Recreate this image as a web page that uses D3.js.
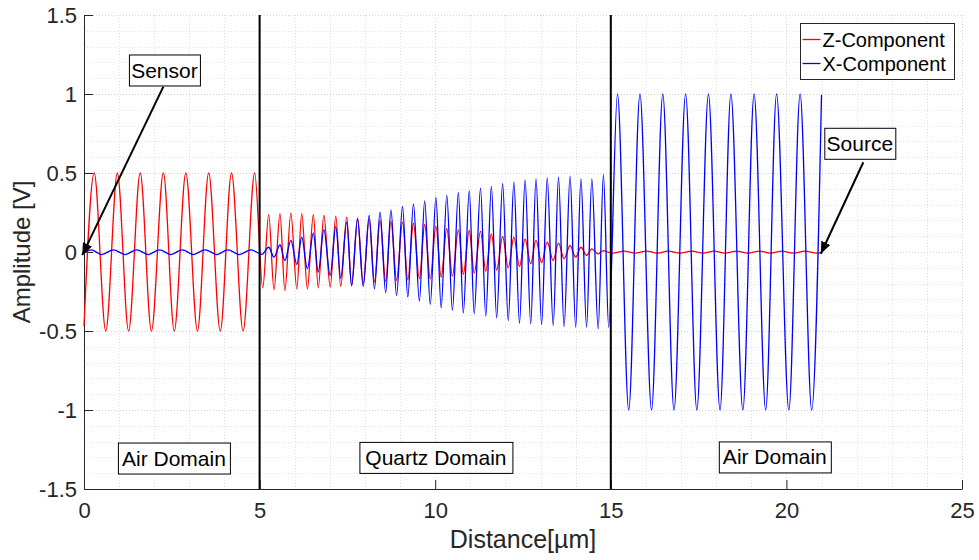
<!DOCTYPE html>
<html>
<head>
<meta charset="utf-8">
<script src="https://cdn.jsdelivr.net/npm/d3@7/dist/d3.min.js"></script>
<style>
  html, body { margin: 0; padding: 0; background: #ffffff; }
  svg { display: block; font-family: "Liberation Sans", Arial, Helvetica, sans-serif; }
</style>
</head>
<body>
<svg id="chart" width="979" height="560"></svg>
<script>
// ---------------- data ----------------
const xTicks = [0, 5, 10, 15, 20, 25];
const xTickLabels = ["0", "5", "10", "15", "20", "25"];
const yTicks = [-1.5, -1, -0.5, 0, 0.5, 1, 1.5];
const yTickLabels = ["-1.5", "-1", "-0.5", "0", "0.5", "1", "1.5"];
const domainBoundaries = [5, 15];
const seriesNames = ["Z-Component", "X-Component"];

// Z-component: turning points (peaks / troughs) along the path, per domain
const zAirInX = [0, 0.29, 0.62, 0.95, 1.27, 1.60, 1.92, 2.26, 2.57, 2.90, 3.23, 3.55, 3.88, 4.20, 4.53, 4.86];
const zAirInY = [-0.47, 0.50, -0.50, 0.50, -0.50, 0.50, -0.50, 0.50, -0.50, 0.50, -0.50, 0.50, -0.50, 0.50, -0.50, 0.50];
const zQuartzX = [5.09, 5.26, 5.41, 5.58, 5.72, 5.89, 6.06, 6.20, 6.36, 6.53, 6.67, 6.83, 7.01, 7.17, 7.31, 7.48,
                  7.62, 7.79, 7.95, 8.12, 8.27, 8.43, 8.59, 8.74, 8.90, 9.07, 9.22, 9.38, 9.55, 9.70, 9.86, 10.02,
                  10.17, 10.33, 10.49, 10.66, 10.80, 10.97, 11.11, 11.29, 11.44, 11.60, 11.75, 11.92, 12.08, 12.24,
                  12.40, 12.56, 12.72, 12.87, 13.03, 13.19, 13.36, 13.51, 13.67, 13.84, 14.00, 14.15, 14.31, 14.46,
                  14.64, 14.79, 14.93];
const zQuartzY = [-0.227, 0.237, -0.239, 0.242, -0.244, 0.246, -0.233, 0.242, -0.233, 0.237, -0.227, 0.231,
                  -0.223, 0.227, -0.218, 0.220, -0.214, 0.214, -0.201, 0.206, -0.191, 0.199, -0.186, 0.193,
                  -0.180, 0.189, -0.176, 0.182, -0.170, 0.174, -0.170, 0.164, -0.159, 0.150, -0.153, 0.140,
                  -0.142, 0.136, -0.134, 0.130, -0.121, 0.115, -0.115, 0.098, -0.100, 0.094, -0.092, 0.083,
                  -0.075, 0.073, -0.068, 0.062, -0.054, 0.056, -0.043, 0.041, -0.033, 0.030, -0.022, 0.020,
                  -0.012, 0.009, -0.002];
const zAirOutX = [15.05, 15.38, 15.69, 16.02, 16.33, 16.64, 16.97, 17.30, 17.62, 17.94, 18.25, 18.58, 18.90,
                  19.23, 19.55, 19.87, 20.20, 20.53, 20.86, 20.98];
const zAirOutY = [-0.007, 0.006, -0.007, 0.006, -0.007, 0.006, -0.007, 0.006, -0.007, 0.006, -0.007, 0.006,
                  -0.007, 0.006, -0.007, 0.006, -0.007, 0.006, -0.007, -0.004];

// X-component: turning points per domain
const xAirInX = [0, 0.20, 0.50, 0.84, 1.17, 1.50, 1.83, 2.15, 2.47, 2.80, 3.11, 3.45, 3.78, 4.10, 4.42, 4.76];
const xAirInY = [-0.004, 0.014, -0.016, 0.014, -0.016, 0.014, -0.016, 0.014, -0.016, 0.014, -0.016, 0.014,
                 -0.016, 0.014, -0.016, 0.014];
const xQuartzX = [5.06, 5.26, 5.41, 5.58, 5.72, 5.89, 6.06, 6.20, 6.36, 6.53, 6.67, 6.83, 7.01, 7.17, 7.31, 7.48,
                  7.62, 7.79, 7.95, 8.12, 8.27, 8.43, 8.59, 8.74, 8.90, 9.07, 9.22, 9.38, 9.55, 9.70, 9.86, 10.02,
                  10.17, 10.33, 10.49, 10.66, 10.80, 10.97, 11.11, 11.29, 11.44, 11.60, 11.75, 11.92, 12.08, 12.24,
                  12.40, 12.56, 12.72, 12.87, 13.03, 13.19, 13.36, 13.51, 13.67, 13.84, 14.00, 14.15, 14.31, 14.46,
                  14.64, 14.79, 14.94];
const xQuartzY = [-0.015, 0.030, -0.033, 0.046, -0.054, 0.073, -0.079, 0.094, -0.106, 0.119, -0.128, 0.141,
                  -0.149, 0.161, -0.166, 0.189, -0.212, 0.210, -0.218, 0.231, -0.233, 0.252, -0.258, 0.267,
                  -0.275, 0.288, -0.286, 0.305, -0.311, 0.324, -0.332, 0.345, -0.353, 0.360, -0.370, 0.378,
                  -0.387, 0.389, -0.391, 0.404, -0.406, 0.415, -0.417, 0.432, -0.434, 0.442, -0.451, 0.457,
                  -0.455, 0.463, -0.459, 0.469, -0.465, 0.473, -0.472, 0.480, -0.476, 0.463, -0.476, 0.463,
                  -0.486, 0.490, -0.476];
const xAirOutX = [15.19, 15.51, 15.83, 16.16, 16.48, 16.80, 17.13, 17.45, 17.78, 18.11, 18.42, 18.76, 19.08,
                  19.41, 19.72, 20.07, 20.39, 20.72, 21.00];
const xAirOutY = [1.0, -1.0, 1.0, -1.0, 1.0, -1.0, 1.0, -1.0, 1.0, -1.0, 1.0, -1.0, 1.0, -1.0, 1.0, -1.0,
                  1.0, -1.0, 0.995];

// ---------------- layout ----------------
const svg = d3.select("#chart");
const plot = { left: 84, right: 962, top: 15, bottom: 489 };
const axisColor = "#262626";
const seriesColors = ["#ff0000", "#0000ff"];

const x = d3.scaleLinear().domain([0, 25]).range([plot.left, plot.right]);
const y = d3.scaleLinear().domain([-1.5, 1.5]).range([plot.bottom, plot.top]);

function zip(xs, ys) { return xs.map((v, i) => [v, ys[i]]); }
const zPoints = [].concat(zip(zAirInX, zAirInY), zip(zQuartzX, zQuartzY), zip(zAirOutX, zAirOutY));
const xPoints = [].concat(zip(xAirInX, xAirInY), zip(xQuartzX, xQuartzY), zip(xAirOutX, xAirOutY));

// ---------------- grid ----------------
const grid = svg.append("g");
const xMinor = d3.range(1, 25, 1).filter(v => v % 5 !== 0);
const yMinor = d3.range(-14, 15, 1).map(v => v / 10).filter(v => Math.abs(Math.round(v * 10) % 5) !== 0);

grid.selectAll("line.xminor").data(xMinor).join("line")
  .attr("x1", d => Math.round(x(d)) + 0.5).attr("x2", d => Math.round(x(d)) + 0.5)
  .attr("y1", plot.top).attr("y2", plot.bottom)
  .attr("stroke", "#e2e2e2").attr("stroke-dasharray", "1,2");
grid.selectAll("line.yminor").data(yMinor).join("line")
  .attr("y1", d => Math.round(y(d)) + 0.5).attr("y2", d => Math.round(y(d)) + 0.5)
  .attr("x1", plot.left).attr("x2", plot.right)
  .attr("stroke", "#e2e2e2").attr("stroke-dasharray", "1,2");
grid.selectAll("line.xmajor").data(xTicks.slice(1)).join("line")
  .attr("x1", d => Math.round(x(d)) + 0.5).attr("x2", d => Math.round(x(d)) + 0.5)
  .attr("y1", plot.top).attr("y2", plot.bottom)
  .attr("stroke", "#d4d4d4").attr("stroke-dasharray", "1,2");
grid.selectAll("line.ymajor").data(yTicks.slice(1)).join("line")
  .attr("y1", d => Math.round(y(d)) + 0.5).attr("y2", d => Math.round(y(d)) + 0.5)
  .attr("x1", plot.left).attr("x2", plot.right)
  .attr("stroke", "#d4d4d4").attr("stroke-dasharray", "1,2");

// ---------------- axes ----------------
const xAxis = d3.axisBottom(x).tickValues(xTicks).tickFormat((d, i) => xTickLabels[i])
  .tickSizeInner(-9).tickSizeOuter(0).tickPadding(13);
const yAxis = d3.axisLeft(y).tickValues(yTicks).tickFormat((d, i) => yTickLabels[i])
  .tickSizeInner(-9).tickSizeOuter(0).tickPadding(7);

const gx = svg.append("g").attr("transform", `translate(0,${plot.bottom})`).call(xAxis);
const gy = svg.append("g").attr("transform", `translate(${plot.left},0)`).call(yAxis);
[gx, gy].forEach(g => {
  g.select(".domain").attr("stroke", axisColor);
  g.selectAll(".tick line").attr("stroke", axisColor);
  g.selectAll(".tick text").attr("fill", axisColor).style("font-size", "22px")
    .style("font-family", '"Liberation Sans", Arial, sans-serif');
});

svg.append("text")
  .attr("x", (plot.left + plot.right) / 2).attr("y", 548)
  .attr("text-anchor", "middle").attr("fill", axisColor).style("font-size", "25px")
  .text("Distance[µm]");
svg.append("text")
  .attr("transform", `translate(30,${(plot.top + plot.bottom) / 2}) rotate(-90)`)
  .attr("text-anchor", "middle").attr("fill", axisColor).style("font-size", "24px")
  .text("Amplitude [V]");

// ---------------- series ----------------
const line = d3.line().x(d => x(d[0])).y(d => y(d[1])).curve(d3.curveMonotoneX);
svg.append("path").datum(zPoints).attr("d", line)
  .attr("fill", "none").attr("stroke", seriesColors[0]).attr("stroke-width", 1.3);
svg.append("path").datum(xPoints).attr("d", line)
  .attr("fill", "none").attr("stroke", seriesColors[1]).attr("stroke-width", 1.3);

// ---------------- domain boundaries ----------------
svg.selectAll("line.boundary").data(domainBoundaries).join("line")
  .attr("x1", d => x(d)).attr("x2", d => x(d))
  .attr("y1", plot.top).attr("y2", plot.bottom)
  .attr("stroke", "#000").attr("stroke-width", 2);

// ---------------- annotations ----------------
const defs = svg.append("defs");
defs.append("marker").attr("id", "arrowhead")
  .attr("viewBox", "0 0 12 10").attr("refX", 12).attr("refY", 5)
  .attr("markerWidth", 12).attr("markerHeight", 10)
  .attr("markerUnits", "userSpaceOnUse").attr("orient", "auto")
  .append("path").attr("d", "M0,0 L12,5 L0,10 Z").attr("fill", "#000");

const arrows = [
  { from: [2.26, 1.047], to: [-0.05, -0.02] },
  { from: [22.19, 0.568], to: [20.98, -0.011] }
];
svg.selectAll("line.arrow").data(arrows).join("line")
  .attr("x1", d => x(d.from[0])).attr("y1", d => y(d.from[1]))
  .attr("x2", d => x(d.to[0])).attr("y2", d => y(d.to[1]))
  .attr("stroke", "#000").attr("stroke-width", 2)
  .attr("marker-end", "url(#arrowhead)");

const labels = [
  { text: "Sensor", at: [2.29, 1.152], w: 71, h: 31 },
  { text: "Source", at: [22.09, 0.688], w: 71, h: 31 },
  { text: "Air Domain", at: [2.56, -1.304], w: 112, h: 31 },
  { text: "Quartz Domain", at: [10.02, -1.300], w: 153, h: 31 },
  { text: "Air Domain", at: [19.67, -1.297], w: 112, h: 31 }
];
const lg = svg.selectAll("g.label").data(labels).join("g")
  .attr("transform", d => `translate(${x(d.at[0])},${y(d.at[1])})`);
lg.append("rect")
  .attr("x", d => -d.w / 2 + 0.5).attr("y", d => -d.h / 2 + 0.5)
  .attr("width", d => d.w).attr("height", d => d.h)
  .attr("fill", "#fff").attr("stroke", "#000").attr("stroke-width", 1);
lg.append("text")
  .attr("text-anchor", "middle").attr("dy", "0.36em")
  .attr("fill", "#000").style("font-size", "21px")
  .text(d => d.text);

// ---------------- legend ----------------
const legend = svg.append("g").attr("transform", "translate(800.5,23.5)");
legend.append("rect").attr("width", 154).attr("height", 56)
  .attr("fill", "#fff").attr("stroke", axisColor).attr("stroke-width", 1);
const legendItems = seriesNames.map((name, i) => ({ name: name, color: seriesColors[i], row: i }));
const li = legend.selectAll("g.item").data(legendItems).join("g")
  .attr("transform", d => `translate(0,${16 + d.row * 24})`);
li.append("line").attr("x1", 2).attr("x2", 20).attr("y1", 0).attr("y2", 0)
  .attr("stroke", d => d.color).attr("stroke-width", 1.3);
li.append("text").attr("x", 22).attr("dy", "0.36em")
  .attr("fill", "#000").style("font-size", "20px").text(d => d.name);
</script>
</body>
</html>
